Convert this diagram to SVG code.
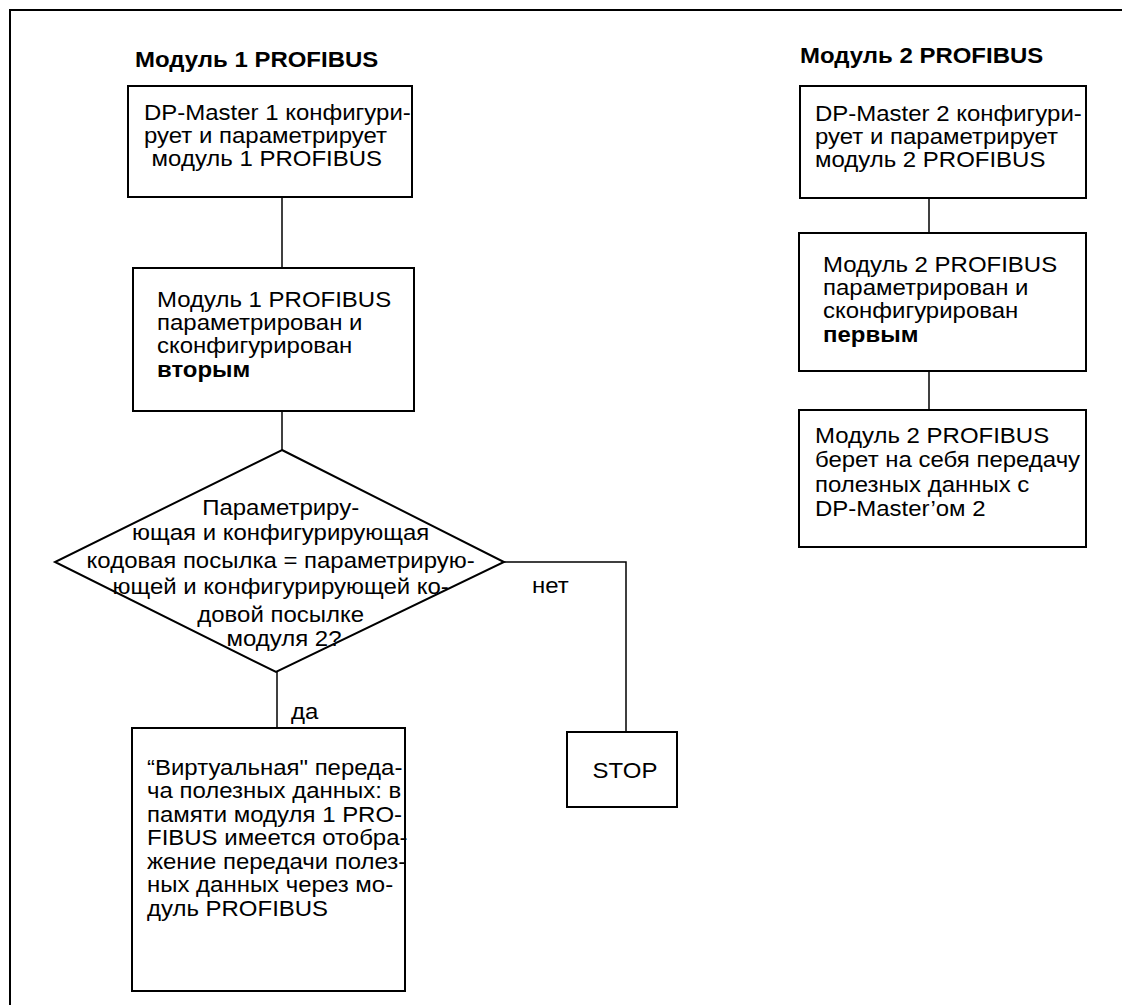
<svg xmlns="http://www.w3.org/2000/svg" width="1122" height="1005" viewBox="0 0 1122 1005">
<style>
  .t { font-family: "Liberation Sans", Arial, sans-serif; font-size: 22px; fill: #000; }
  .b { font-weight: bold; }
  .box { fill: #fff; stroke: #000; stroke-width: 2; }
  .ln { fill: none; stroke: #000; stroke-width: 1.5; }
  .frame { fill: none; stroke: #000; stroke-width: 2; }
</style>
<rect x="0" y="0" width="1122" height="1005" fill="#fff"/>
<g id="frame">
  <path class="frame" d="M10,1005 V10 H1122"/>
</g>
<g id="connectors">
  <path class="ln" d="M282,197 V268"/>
  <path class="ln" d="M282,411 V450"/>
  <path class="ln" d="M504,562 H626 V732"/>
  <path class="ln" d="M277,672 V728"/>
  <path class="ln" d="M929,198 V233"/>
  <path class="ln" d="M929,371 V410"/>
  <text class="t" transform="translate(532 0) scale(1.09 1)" x="0" y="593">нет</text>
  <text class="t" transform="translate(291 0) scale(1.09 1)" x="0" y="719">да</text>
</g>
<g id="title1">
  <text class="t b" transform="translate(135 0) scale(1.09 1)" x="0" y="67">Модуль 1 PROFIBUS</text>
</g>
<g id="title2">
  <text class="t b" transform="translate(800 0) scale(1.09 1)" x="0" y="63">Модуль 2 PROFIBUS</text>
</g>
<g id="box1">
  <rect class="box" x="128" y="86" width="284" height="111"/>
  <text class="t" transform="translate(144 0) scale(1.09 1)">
    <tspan x="0" y="120">DP-Master 1 конфигури-</tspan>
    <tspan x="0" y="143">рует и параметрирует</tspan>
    <tspan x="7" y="166">модуль 1 PROFIBUS</tspan>
  </text>
</g>
<g id="box2">
  <rect class="box" x="133" y="268" width="281" height="143"/>
  <text class="t" transform="translate(157 0) scale(1.09 1)">
    <tspan x="0" y="307">Модуль 1 PROFIBUS</tspan>
    <tspan x="0" y="330">параметрирован и</tspan>
    <tspan x="0" y="353">сконфигурирован</tspan>
    <tspan x="0" y="377" class="b">вторым</tspan>
  </text>
</g>
<g id="decision">
  <polygon class="box" points="282,450 504,562 276,672 55,562"/>
  <text class="t" transform="translate(284 0) scale(1.09 1)" text-anchor="middle">
    <tspan x="0" y="515">Параметриру-</tspan>
    <tspan x="0" y="540">ющая и конфигурирующая</tspan>
    <tspan x="0" y="568">кодовая посылка = параметрирую-</tspan>
    <tspan x="0" y="594">ющей и конфигурирующей ко-</tspan>
    <tspan x="0" y="622">довой посылке</tspan>
    <tspan x="0" y="646">модуля 2?</tspan>
  </text>
</g>
<g id="box-virtual">
  <rect class="box" x="132" y="728" width="273" height="263"/>
  <text class="t" transform="translate(147 0) scale(1.09 1)">
    <tspan x="0" y="775">“Виртуальная" переда-</tspan>
    <tspan x="0" y="798">ча полезных данных: в</tspan>
    <tspan x="0" y="822">памяти модуля 1 PRO-</tspan>
    <tspan x="0" y="845">FIBUS имеется отобра-</tspan>
    <tspan x="0" y="869">жение передачи полез-</tspan>
    <tspan x="0" y="892">ных данных через мо-</tspan>
    <tspan x="0" y="916">дуль PROFIBUS</tspan>
  </text>
</g>
<g id="stop">
  <rect class="box" x="567" y="732" width="110" height="75"/>
  <text class="t" transform="translate(625 0) scale(1.09 1)" text-anchor="middle" x="0" y="778">STOP</text>
</g>
<g id="boxA">
  <rect class="box" x="800" y="86" width="286" height="112"/>
  <text class="t" transform="translate(815 0) scale(1.09 1)">
    <tspan x="0" y="121">DP-Master 2 конфигури-</tspan>
    <tspan x="0" y="144">рует и параметрирует</tspan>
    <tspan x="0" y="167">модуль 2 PROFIBUS</tspan>
  </text>
</g>
<g id="boxB">
  <rect class="box" x="799" y="233" width="287" height="138"/>
  <text class="t" transform="translate(823 0) scale(1.09 1)">
    <tspan x="0" y="272">Модуль 2 PROFIBUS</tspan>
    <tspan x="0" y="295">параметрирован и</tspan>
    <tspan x="0" y="318">сконфигурирован</tspan>
    <tspan x="0" y="342" class="b">первым</tspan>
  </text>
</g>
<g id="boxC">
  <rect class="box" x="799" y="410" width="287" height="137"/>
  <text class="t" transform="translate(815 0) scale(1.09 1)">
    <tspan x="0" y="443">Модуль 2 PROFIBUS</tspan>
    <tspan x="0" y="467">берет на себя передачу</tspan>
    <tspan x="0" y="492">полезных данных с</tspan>
    <tspan x="0" y="516">DP-Master’ом 2</tspan>
  </text>
</g>
</svg>
